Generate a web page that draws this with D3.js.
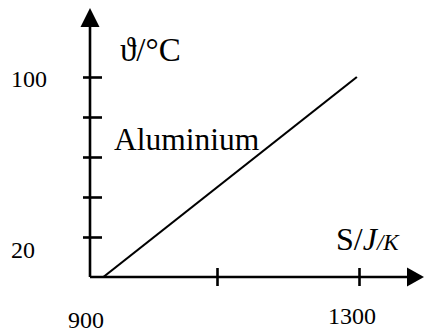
<!DOCTYPE html>
<html>
<head>
<meta charset="utf-8">
<script src="https://cdn.jsdelivr.net/npm/d3@7"></script>
<style>
  html, body { margin: 0; padding: 0; background: #fff; }
  svg { display: block; }
  text { font-family: "Liberation Serif", "Times New Roman", serif; fill: #000; }
</style>
</head>
<body>
<div id="chart"></div>
<script>
// ---- data ----
const seriesName = "Aluminium";
const entropy = [940, 1297];        // S in J/K
const temperature = [20, 100];      // theta in °C
const xTickValues = [1100, 1300];
const yTickValues = [36, 52, 68, 84, 100];
const xTickLabels = ["900", "1300"];
const xTickLabelValues = [900, 1300];
const yTickLabels = ["100", "20"];
const yTickLabelValues = [100, 20];

// ---- layout ----
const W = 424, H = 333;
const svg = d3.select("#chart").append("svg").attr("width", W).attr("height", H);

const x = d3.scaleLinear().domain([900, 1300]).range([75, 359]);
const y = d3.scaleLinear().domain([20, 100]).range([277, 77]);

const axisX = 90, axisY = y(20);
const sw = 2.6;

// axis lines
svg.append("line").attr("x1", axisX).attr("x2", axisX).attr("y1", axisY).attr("y2", 22)
  .attr("stroke", "#000").attr("stroke-width", sw);
svg.append("line").attr("x1", axisX).attr("x2", 412).attr("y1", axisY).attr("y2", axisY)
  .attr("stroke", "#000").attr("stroke-width", sw);

// arrowheads
svg.append("path").attr("d", `M${axisX},8 L${axisX - 9.5},27 L${axisX + 9.5},27 Z`).attr("fill", "#000");
svg.append("path").attr("d", `M424,${axisY} L407,${axisY - 9.5} L407,${axisY + 9.5} Z`).attr("fill", "#000");

// y ticks
const gy = svg.append("g").attr("transform", `translate(${axisX + 12},0)`)
  .call(d3.axisLeft(y).tickValues(yTickValues).tickSize(19).tickFormat(""));
gy.select(".domain").remove();
gy.selectAll(".tick line").attr("stroke", "#000").attr("stroke-width", sw);

// x ticks
const gx = svg.append("g").attr("transform", `translate(0,${axisY - 9})`)
  .call(d3.axisBottom(x).tickValues(xTickValues).tickSize(18).tickFormat(""));
gx.select(".domain").remove();
gx.selectAll(".tick line").attr("stroke", "#000").attr("stroke-width", sw);

// data line
const pts = entropy.map((s, i) => [s, temperature[i]]);
svg.append("path").datum(pts)
  .attr("d", d3.line().x(d => x(d[0])).y(d => y(d[1])))
  .attr("fill", "none").attr("stroke", "#000").attr("stroke-width", 2.2);

// tick labels
const yOff = { "100": 10, "20": -19 };
svg.selectAll(".ylab").data(yTickLabels).enter().append("text")
  .attr("x", 11).attr("y", (d, i) => y(yTickLabelValues[i]) + yOff[d])
  .attr("font-size", 24).text(d => d);
const xOff = { "900": 11, "1300": -7 };
const xBase = { "900": 328, "1300": 324 };
svg.selectAll(".xlab").data(xTickLabels).enter().append("text")
  .attr("x", (d, i) => x(xTickLabelValues[i]) + xOff[d]).attr("y", d => xBase[d])
  .attr("text-anchor", "middle").attr("font-size", 24).text(d => d);

// axis titles
svg.append("text").attr("x", 120).attr("y", 61).attr("font-size", 33).text("ϑ/°C");
const st = svg.append("text").attr("x", 336).attr("y", 250).attr("font-size", 32);
st.append("tspan").text("S/");
st.append("tspan").attr("font-style", "italic").text("J");
st.append("tspan").attr("font-style", "italic").attr("font-size", 23).text("/K");

// series label
svg.append("text").attr("x", 114).attr("y", 150).attr("font-size", 31.5).text(seriesName);
</script>
</body>
</html>
